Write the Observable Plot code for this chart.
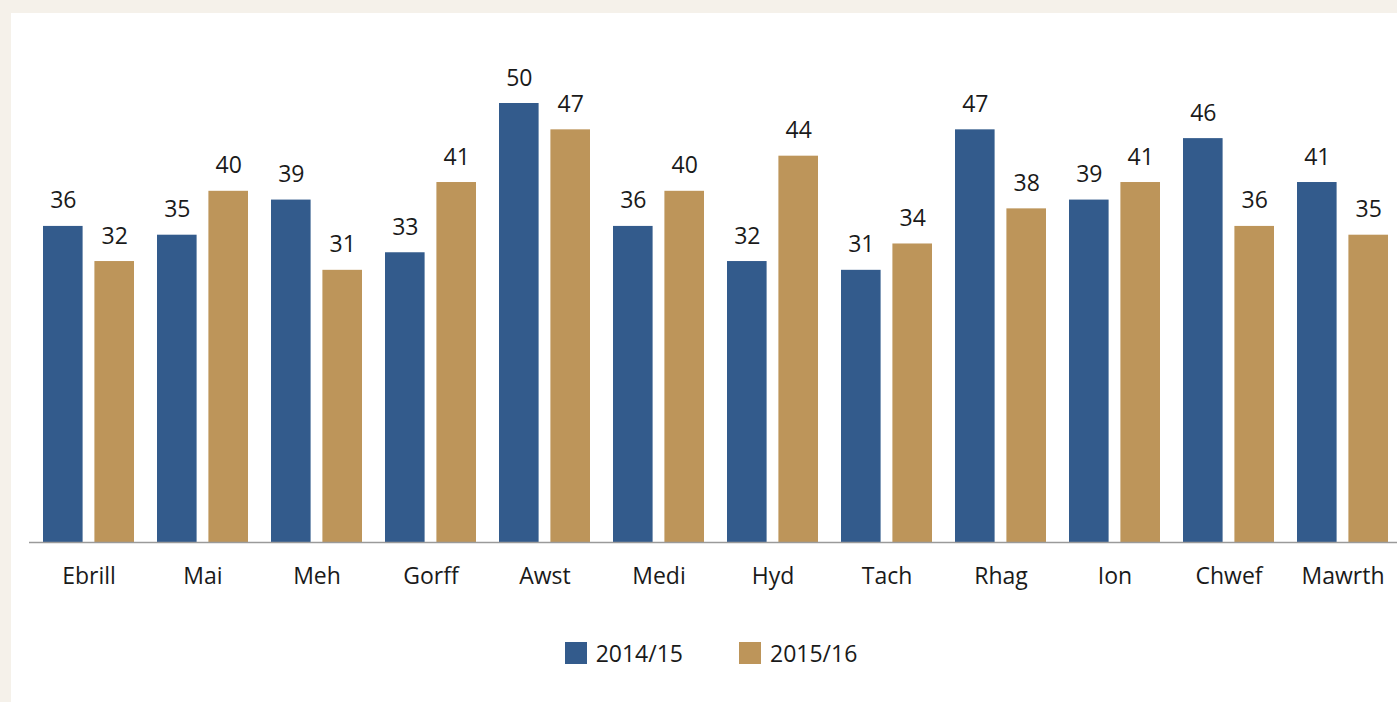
<!DOCTYPE html>
<html>
<head>
<meta charset="utf-8">
<script src="https://cdn.jsdelivr.net/npm/d3@7"></script>
<script src="https://cdn.jsdelivr.net/npm/@observablehq/plot@0.6"></script>
<style>
  html, body { margin: 0; padding: 0; }
  body { width: 1397px; height: 702px; background: #f5f1ea; position: relative; overflow: hidden; font-family: "Open Sans", sans-serif; }
  #panel { position: absolute; left: 11px; top: 13px; width: 1386px; height: 689px; background: #ffffff; }
  #chart { position: absolute; left: 0; top: 0; width: 1397px; }
  #chart svg { max-width: none !important; overflow: visible; }
  #legend { position: absolute; left: 0; top: 637px; width: 1422px; display: flex; justify-content: center; align-items: center; font-size: 23px; color: #1a1a1a; }
  .item { display: flex; align-items: center; margin: 0 28px; }
  .sw { width: 22px; height: 22px; margin-right: 9px; }
</style>
</head>
<body>
<div id="panel"></div>
<div id="chart"></div>
<div id="legend"></div>
<script>
const months = ["Ebrill", "Mai", "Meh", "Gorff", "Awst", "Medi", "Hyd", "Tach", "Rhag", "Ion", "Chwef", "Mawrth"];
const series = ["2014/15", "2015/16"];
const values2014 = [36, 35, 39, 33, 50, 36, 32, 31, 47, 39, 46, 41];
const values2015 = [32, 40, 31, 41, 47, 40, 44, 34, 38, 41, 36, 35];
const colors = ["#335b8c", "#bd955a"];

const dataA = months.map((m, i) => ({month: m, value: values2014[i]}));
const dataB = months.map((m, i) => ({month: m, value: values2015[i]}));

const bandW = 91.4, barW = 40;
const shift = (bandW - barW) / 2;

const chart = Plot.plot({
  width: 1397,
  height: 600,
  marginLeft: 29,
  marginRight: 0,
  marginTop: 103,
  marginBottom: 58,
  style: {fontFamily: "Open Sans, sans-serif", fontSize: "23px", color: "#1a1a1a", background: "transparent", overflow: "visible", maxWidth: "none"},
  x: {domain: months, range: [29.35, 1401], paddingInner: 0.2, paddingOuter: 0.1, label: null},
  y: {domain: [0, 50], axis: null},
  marks: [
    Plot.barY(dataA, {x: "month", y: "value", fill: colors[0], insetLeft: 0, insetRight: bandW - barW}),
    Plot.barY(dataB, {x: "month", y: "value", fill: colors[1], insetLeft: bandW - barW, insetRight: 0}),
    Plot.text(dataA, {x: "month", y: "value", text: d => String(d.value), dx: -shift, dy: -18, lineAnchor: "bottom", fill: "#1a1a1a", fontSize: 23}),
    Plot.text(dataB, {x: "month", y: "value", text: d => String(d.value), dx: shift, dy: -18, lineAnchor: "bottom", fill: "#1a1a1a", fontSize: 23}),
    Plot.ruleY([0], {stroke: "#9a9a9a", strokeWidth: 1.5}),
    Plot.axisX({tickSize: 0, tickPadding: 25, fontSize: 23, fill: "#1a1a1a", label: null})
  ]
});
document.getElementById("chart").appendChild(chart);

const legend = document.getElementById("legend");
series.forEach((s, i) => {
  const item = document.createElement("div");
  item.className = "item";
  const sw = document.createElement("div");
  sw.className = "sw";
  sw.style.background = colors[i];
  const t = document.createElement("span");
  t.textContent = s;
  item.appendChild(sw);
  item.appendChild(t);
  legend.appendChild(item);
});
</script>
</body>
</html>
